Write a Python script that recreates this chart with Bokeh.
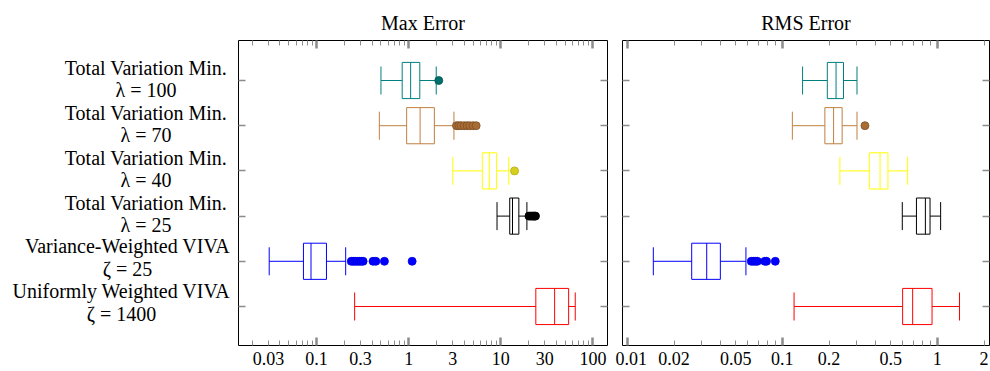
import numpy as np
import pandas as pd
from bokeh.plotting import figure
from bokeh.models import ColumnDataSource, Range1d, FixedTicker, LogAxis, LinearAxis
from bokeh.layouts import row, column
from bokeh.embed import file_html
from bokeh.resources import INLINE
from bokeh.core.properties import value

# ---- categories (top to bottom) ----
methods = ["Total Variation Min.", "Total Variation Min.", "Total Variation Min.",
           "Total Variation Min.", "Variance-Weighted VIVA", "Uniformly Weighted VIVA"]
params = ["λ = 100", "λ = 70", "λ = 40", "λ = 25", "ζ = 25", "ζ = 1400"]
colors = ["#008080", "#bf8040", "#ffff00", "#000000", "#0000ff", "#ff0000"]
outlier_fill = ["#006e6a", "#a86c34", "#d6cf1e", "#000000", "#0000ff", "#ff0000"]
outlier_edge = ["#005a56", "#7e5026", "#b5ad10", "#000000", "#0000e0", "#d00000"]

panel_titles = ["Max Error", "RMS Error"]

# ---- Max error: whisker low, quartiles, median, whisker high, outliers ----
max_low = [0.50, 0.48, 3.01, 9.1, 0.0306, 0.259]
max_q1 = [0.85, 0.95, 6.3, 12.5, 0.072, 24.0]
max_med = [1.05, 1.33, 7.5, 13.4, 0.087, 38.4]
max_q3 = [1.32, 1.90, 9.0, 15.7, 0.128, 54.5]
max_high = [1.99, 3.1, 12.2, 19.2, 0.207, 64.3]
max_outliers = [
    [2.12],
    [3.3, 3.5, 3.7, 4.0, 4.3, 4.6, 5.0, 5.4],
    [14.1],
    [20.2, 21.0, 21.8, 22.5, 23.2, 23.8],
    [0.238, 0.25, 0.262, 0.275, 0.29, 0.305, 0.32, 0.41, 0.44, 0.545, 1.09],
    [],
]

# ---- RMS error ----
rms_low = [0.135, 0.116, 0.235, 0.594, 0.0147, 0.119]
rms_q1 = [0.195, 0.188, 0.364, 0.733, 0.026, 0.597]
rms_med = [0.222, 0.214, 0.427, 0.837, 0.0325, 0.693]
rms_q3 = [0.248, 0.243, 0.480, 0.897, 0.0398, 0.924]
rms_high = [0.303, 0.303, 0.643, 1.05, 0.0582, 1.39]
rms_outliers = [
    [],
    [0.341],
    [],
    [],
    [0.063, 0.065, 0.067, 0.069, 0.077, 0.079, 0.090],
    [],
]

max_tick_labels = ["0.03", "0.1", "0.3", "1", "3", "10", "30", "100"]
rms_tick_labels = ["0.01", "0.02", "0.05", "0.1", "0.2", "0.5", "1", "2"]

# ---- layout / style constants ----
FONT = "Liberation Serif"
BOX_HALF = 0.4
CAP_HALF = 0.31
TICK_GRAY = "#8c8c8c"
TOTAL_W = 990
HEAD_H = 34          # strip holding the panel headings
HEIGHT = 371 - HEAD_H
TOP = 6
BOTTOM = 26
STRIP_W = 231
P1_W, P1_L, P1_R = 384, 7, 8
P2_W, P2_L, P2_R = 375, 7, 1

n = len(methods)
ypos = [n - i for i in range(n)]
y_range = Range1d(0.137, 6.885)


def decade_ticks(lo, hi):
    majors, minors = [], []
    for k in range(int(np.floor(np.log10(lo))), int(np.ceil(np.log10(hi))) + 1):
        base = 10.0 ** k
        if lo <= base <= hi:
            majors.append(base)
        for m in range(2, 10):
            v = m * base
            if lo <= v <= hi:
                minors.append(v)
    return majors, minors


def hide_labels(ax):
    ax.major_label_text_font_size = "1px"
    ax.major_label_text_color = None
    ax.major_label_standoff = 0


def tick_axis(majors, minors):
    ax = LogAxis(ticker=FixedTicker(ticks=majors, minor_ticks=minors))
    ax.axis_line_color = None
    ax.major_tick_in = 8
    ax.major_tick_out = 0
    ax.minor_tick_in = 5
    ax.minor_tick_out = 0
    ax.major_tick_line_color = TICK_GRAY
    ax.major_tick_line_width = 2.5
    ax.minor_tick_line_color = TICK_GRAY
    ax.minor_tick_line_width = 1
    hide_labels(ax)
    return ax


def y_tick_axis():
    ax = LinearAxis(ticker=FixedTicker(ticks=ypos))
    ax.axis_line_color = None
    ax.major_tick_in = 7
    ax.major_tick_out = 0
    ax.major_tick_line_color = TICK_GRAY
    ax.major_tick_line_width = 1.5
    ax.minor_tick_line_color = None
    hide_labels(ax)
    return ax


def bare_figure(**kw):
    f = figure(x_axis_location=None, y_axis_location=None,
               output_backend="svg", toolbar_location=None, **kw)
    f.xgrid.visible = False
    f.ygrid.visible = False
    f.outline_line_color = None
    return f


def make_panel(x_lo, x_hi, low, q1, med, q3, high, outliers, tick_labels,
               width, border_left, border_right):
    p = figure(width=width, height=HEIGHT, x_axis_type="log",
               x_range=Range1d(x_lo, x_hi), y_range=y_range,
               x_axis_location=None, y_axis_location=None,
               output_backend="svg", toolbar_location=None,
               min_border_left=border_left, min_border_right=border_right,
               min_border_top=TOP, min_border_bottom=BOTTOM,
               background_fill_color="white", border_fill_color="white")
    p.xgrid.visible = False
    p.ygrid.visible = False
    p.outline_line_color = "black"
    p.outline_line_width = 1

    majors, minors = decade_ticks(x_lo, x_hi)
    p.add_layout(tick_axis(majors, minors), "above")
    p.add_layout(tick_axis(majors, minors), "below")

    label_vals = [float(t) for t in tick_labels]
    lab = LogAxis(ticker=FixedTicker(ticks=label_vals))
    lab.axis_line_color = None
    lab.major_tick_line_color = None
    lab.minor_tick_line_color = None
    lab.major_tick_in = 0
    lab.major_tick_out = 0
    lab.major_label_standoff = 6
    lab.major_label_overrides = {v: t for v, t in zip(label_vals, tick_labels)}
    lab.major_label_text_font = FONT
    lab.major_label_text_font_size = "18px"
    lab.major_label_text_color = "black"
    p.add_layout(lab, "below")

    p.add_layout(y_tick_axis(), "left")
    p.add_layout(y_tick_axis(), "right")

    y = np.array(ypos, dtype=float)
    df = pd.DataFrame(dict(y=y, low=low, q1=q1, med=med, q3=q3, high=high,
                           color=colors))
    df["box_bot"] = df.y - BOX_HALF
    df["box_top"] = df.y + BOX_HALF
    df["cap_bot"] = df.y - CAP_HALF
    df["cap_top"] = df.y + CAP_HALF
    src = ColumnDataSource(df)

    p.segment(x0="low", y0="y", x1="q1", y1="y", line_color="color", line_width=1, source=src)
    p.segment(x0="q3", y0="y", x1="high", y1="y", line_color="color", line_width=1, source=src)
    p.segment(x0="low", y0="cap_bot", x1="low", y1="cap_top", line_color="color", line_width=1, source=src)
    p.segment(x0="high", y0="cap_bot", x1="high", y1="cap_top", line_color="color", line_width=1, source=src)
    p.quad(left="q1", right="q3", bottom="box_bot", top="box_top", fill_color=None,
           line_color="color", line_width=1, source=src)
    p.segment(x0="med", y0="box_bot", x1="med", y1="box_top", line_color="color", line_width=1, source=src)

    ox, oy, ofc, olc = [], [], [], []
    for i, vals in enumerate(outliers):
        for v in vals:
            ox.append(v)
            oy.append(ypos[i])
            ofc.append(outlier_fill[i])
            olc.append(outlier_edge[i])
    osrc = ColumnDataSource(dict(x=ox, y=oy, fc=ofc, lc=olc))
    p.scatter(x="x", y="y", size=8, fill_color="fc", line_color="lc", line_width=0.8,
              source=osrc)
    return p


# ---- heading strip: pixel coordinates, y measured down from the top ----
head = bare_figure(width=TOTAL_W, height=HEAD_H, x_range=Range1d(0, TOTAL_W),
                   y_range=Range1d(HEAD_H, 0), min_border=0)
frame1_mid = STRIP_W + P1_L + (P1_W - P1_L - P1_R) / 2
frame2_mid = STRIP_W + P1_W + P2_L + (P2_W - P2_L - P2_R) / 2
head.text(x=[frame1_mid, frame2_mid], y=[22, 22], text=panel_titles,
          text_align="center", text_baseline="alphabetic",
          text_font=value(FONT), text_font_size="20px", text_color="black")

# ---- category labels drawn in their own strip ----
lab_fig = bare_figure(width=STRIP_W, height=HEIGHT, x_range=Range1d(0, STRIP_W),
                      y_range=y_range, min_border_left=0, min_border_right=0,
                      min_border_top=TOP, min_border_bottom=BOTTOM)

centers = [145.5, 145.5, 145.5, 145.5, 127, 121]
line1_off = [-13, -13, -13, -13, -15, -15]
line2_off = [9, 9, 9, 9, 7.5, 7.5]
lsrc = ColumnDataSource(dict(x=centers, y=ypos, m=methods, q=params,
                             o1=line1_off, o2=line2_off))
lab_fig.text(x="x", y="y", text="m", y_offset="o1", text_align="center",
             text_baseline="alphabetic", text_font=value(FONT), text_font_size="20px",
             text_color="black", source=lsrc)
lab_fig.text(x="x", y="y", text="q", y_offset="o2", text_align="center",
             text_baseline="alphabetic", text_font=value(FONT), text_font_size="20px",
             text_color="black", source=lsrc)

p_max = make_panel(0.0142, 144, max_low, max_q1, max_med, max_q3, max_high,
                   max_outliers, max_tick_labels, P1_W, P1_L, P1_R)
p_rms = make_panel(0.0093, 2.17, rms_low, rms_q1, rms_med, rms_q3, rms_high,
                   rms_outliers, rms_tick_labels, P2_W, P2_L, P2_R)

layout = column(head, row(lab_fig, p_max, p_rms, spacing=0), spacing=0)
open("out.html", "w").write(file_html(layout, INLINE))
